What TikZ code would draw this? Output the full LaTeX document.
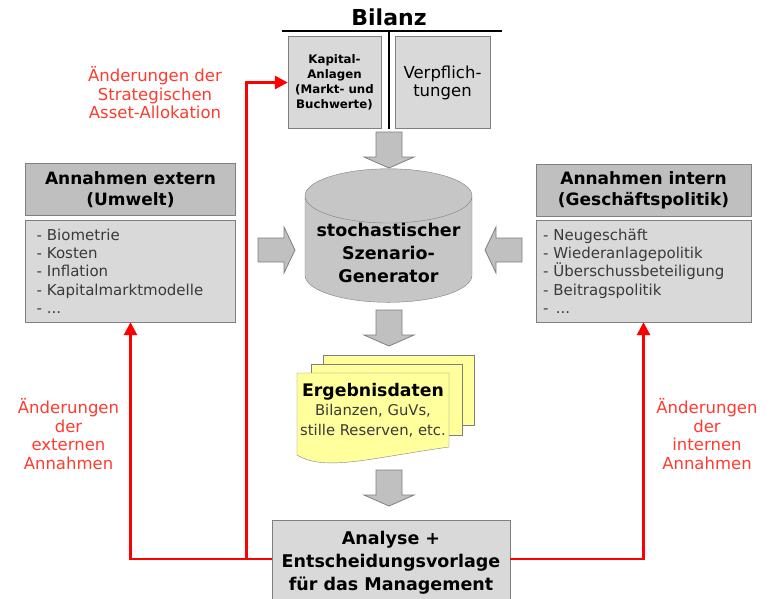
\documentclass[tikz,border=0pt]{standalone}
\usepackage{fontspec}
\setmainfont{DejaVu Sans}
\usetikzlibrary{positioning, arrows.meta, shapes.geometric}

\definecolor{headgray}{HTML}{BFBFBF}
\definecolor{bodygray}{HTML}{D9D9D9}
\definecolor{linegray}{HTML}{7F7F7F}
\definecolor{arrowgray}{HTML}{C0C0C0}
\definecolor{cylgray}{HTML}{C6C6C6}
\definecolor{docyellow}{HTML}{FFFF9C}
\definecolor{redline}{HTML}{FF0000}
\definecolor{redtext}{HTML}{FF3B2F}
\definecolor{listtext}{HTML}{3A3A3A}

\tikzset{
	head/.style={draw=linegray, fill=headgray, minimum height=52pt, align=center, font=\fontsize{17}{21}\selectfont\bfseries},
	list/.style={draw=linegray, fill=bodygray, minimum height=102pt, align=left, text=listtext, font=\fontsize{15}{18.3}\selectfont},
	asset/.style={draw=linegray, fill=bodygray, minimum height=92pt, align=center, inner sep=1pt},
	gen/.style={cylinder, shape border rotate=90, aspect=0.36, inner ysep=0pt, draw=linegray, fill=cylgray, minimum width=167pt, minimum height=90pt, align=center, font=\fontsize{17.5}{23}\selectfont\bfseries},
	page/.style={draw=linegray, fill=docyellow, minimum width=151pt, minimum height=70pt},
	result/.style={draw=linegray, fill=bodygray, minimum width=238pt, minimum height=86pt, align=center, font=\fontsize{17.5}{23}\selectfont\bfseries},
	% red labels of the feedback loops
	change/.style={align=center, text=redtext, font=\fontsize{16.5}{18.5}\selectfont},
	redarrow/.style={draw=redline, line width=2.8pt, -{Triangle[length=13pt, width=13pt]}},
	blockarrow/.style={draw=linegray, fill=arrowgray, line width=0.8pt},
	pics/downarrow/.style={code={\filldraw[blockarrow] (-13,0) -- (13,0) -- (13,25) -- (25,25) -- (0,36) -- (-25,25) -- (-13,25) -- cycle;}},
	pics/rightarrow/.style={code={\filldraw[blockarrow] (0,-12) -- (26,-12) -- (26,-23) -- (37,0) -- (26,23) -- (26,12) -- (0,12) -- cycle;}},
	pics/leftarrow/.style={code={\filldraw[blockarrow] (0,-12) -- (-26,-12) -- (-26,-23) -- (-37,0) -- (-26,23) -- (-26,12) -- (0,12) -- cycle;}},
}

\begin{document}
\begin{tikzpicture}[x=1pt, y=-1pt]
	\useasboundingbox (0,0) rectangle (773,598);
	
	% Bilanz
	\node (bil) [font=\fontsize{22}{24}\selectfont\bfseries] at (389,17) {Bilanz};
	\coordinate (bl) at (282,31);
	\coordinate (br) at (502,31);
	\coordinate (bm) at (389,31);
	\node (kap) [asset, minimum width=93pt, font=\fontsize{11.8}{15}\selectfont\bfseries] at (334.5,82.5) {Kapital-\\Anlagen\\(Markt- und\\Buchwerte)};
	\node (verp) [asset, minimum width=95pt, font=\fontsize{16.5}{18}\selectfont] at (442.5,82.5) {Verpflich-\\tungen};
	\coordinate (bb) at (bm |- kap.south);
	\draw[line width=2.6pt] (bl) -- (br);
	\draw[line width=2.6pt] (bm) -- (bb);
	
	% Annahmen
	\node (exth) [head, minimum width=210pt] at (130.5,189.5) {Annahmen extern\\(Umwelt)};
	\node (extb) [list, minimum width=210pt, text width=188pt] at (130.5,271) {- Biometrie\\- Kosten\\- Inflation\\- Kapitalmarktmodelle\\- ...};
	\node (inth) [head, minimum width=215pt] at (643.5,190) {Annahmen intern\\(Geschäftspolitik)};
	\node (intb) [list, minimum width=215pt, text width=201pt] at (643.5,271) {- Neugeschäft\\- Wiederanlagepolitik\\- Überschussbeteiligung\\- Beitragspolitik\\-\enspace ...};
	
	% Generator
	\node (szen) [gen] at (388.5,253) {stochastischer\\Szenario-\\Generator};
	
	% Ergebnisdaten
	\node (pg3) [page] at (398.5,390) {};
	\node (pg2) [page, minimum height=71pt] at (386.5,399.5) {};
	\filldraw[draw=linegray, fill=docyellow] (297,373) -- (449,373) -- (449,447) .. controls (370,458) and (325,472) .. (297,455) -- cycle;
	\node (erg) [align=center, inner sep=0pt, font=\fontsize{14.8}{20}\selectfont] at (373,410) {{\fontsize{17.3}{21}\selectfont\bfseries Ergebnisdaten}\\[-1pt]\color{listtext}Bilanzen, GuVs,\\\color{listtext}stille Reserven, etc.};
	
	% Analyse
	\node (ana) [result] at (391,563) {Analyse +\\Entscheidungsvorlage\\für das Management};
	
	\pic (a1) at (389,132) {downarrow};
	\pic (a2) at (389,310) {downarrow};
	\pic (a3) at (389,470) {downarrow};
	\pic (a4) at (258,250) {rightarrow};
	\pic (a5) at (522,250) {leftarrow};
	
	% feedback loops
	\node (chg1) [change] at (155,93) {Änderungen der\\Strategischen\\Asset-Allokation};
	\node (chg2) [change] at (68.5,434) {Änderungen\\der\\externen\\Annahmen};
	\node (chg3) [change] at (707,434) {Änderungen\\der\\internen\\Annahmen};
	
	\coordinate (jl) at ([yshift=4pt]ana.west);
	\coordinate (jr) at ([yshift=4pt]ana.east);
	\coordinate (jt) at ([xshift=-25pt]jl);
	\begin{scope}[redarrow]
		\draw (jl) -| (extb.south);
		\draw (jt) |- (kap.west);
		\draw (jr) -| (intb.south);
	\end{scope}
	
\end{tikzpicture}
\end{document}
